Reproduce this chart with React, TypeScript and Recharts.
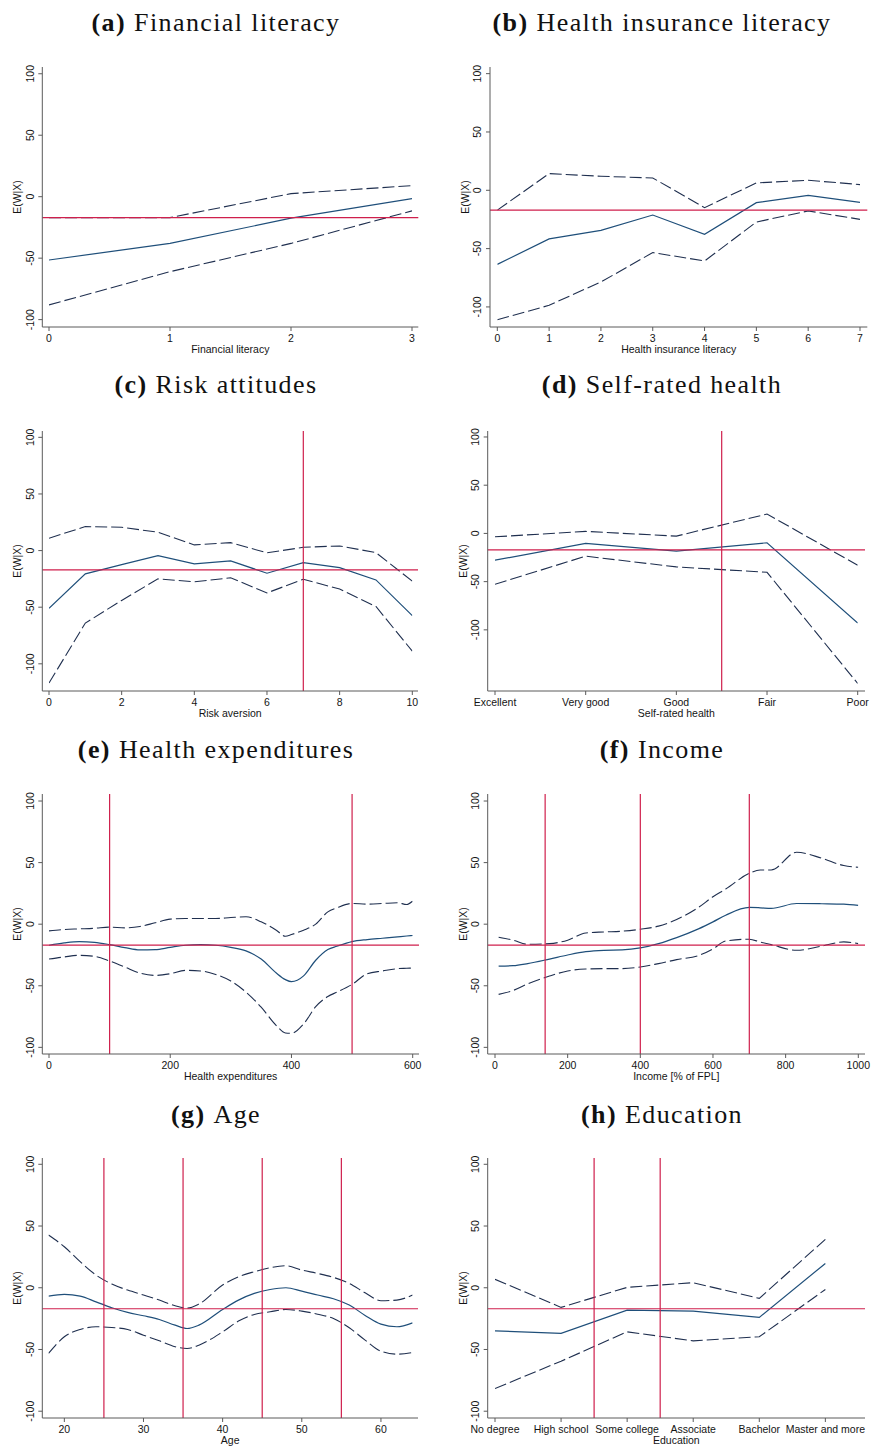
import { LineChart, Line, XAxis, YAxis, ReferenceLine } from "recharts";

// Sample mean of E(W|X), drawn as the horizontal reference in every panel
const MEAN_W = -17;

// (a) Financial literacy
const finLitX = [0, 1, 2, 3];
const finLitFit = [-51.5, -38, -17.5, -1.5];
const finLitHi = [-17, -17, 2.5, 9];
const finLitLo = [-88, -61, -38, -11.5];

// (b) Health insurance literacy
const hiLitX = [0, 1, 2, 3, 4, 5, 6, 7];
const hiLitFit = [-63.5, -41.7, -34.3, -21.2, -37.7, -10.6, -4.3, -10.3];
const hiLitHi = [-17, 14.3, 12, 10.6, -14.9, 6.3, 8.6, 4.9];
const hiLitLo = [-111, -98.6, -78.6, -53.4, -60.6, -27.2, -17.7, -24.9];

// (c) Risk attitudes
const riskX = [0, 1, 2, 3, 4, 5, 6, 7, 8, 9, 10];
const riskFit = [-50.9, -20.6, -12.4, -4.4, -11.8, -9.1, -20, -10.6, -15, -25.9, -57.4];
const riskHi = [10.9, 21.2, 20.6, 16.2, 5, 7, -2, 2.9, 4.1, -1.8, -27];
const riskLo = [-117, -64, -44, -25, -27.6, -24, -37.4, -25.3, -34, -49.4, -88.8];

// (d) Self-rated health
const healthCats = ["Excellent", "Very good", "Good", "Fair", "Poor"];
const healthX = [0, 1, 2, 3, 4];
const healthFit = [-27.8, -10.4, -18.4, -9.7, -93];
const healthHi = [-3.5, 2.1, -2.8, 20.1, -33];
const healthLo = [-52.8, -23.6, -34.7, -40.3, -155.6];

// (e) Health expenditures
const expX = [0, 25, 50, 75, 100, 125, 150, 175, 200, 225, 250, 275, 300, 325, 350, 375, 390, 400, 420, 440, 460, 475, 500, 525, 550, 575, 590, 600];
const expFit = [-17.1, -15.2, -14.1, -14.7, -16.6, -19, -20.9, -20.7, -18.8, -17.1, -16.6, -17.1, -18.8, -21.7, -28.3, -39.7, -45, -46.7, -42, -29.3, -20.6, -17.9, -14.1, -12.5, -11.4, -10.3, -9.6, -9.2];
const expHi = [-5.4, -4.3, -3.8, -3.3, -2.4, -3, -1.9, 1.1, 4.1, 4.6, 4.6, 4.6, 5.4, 6, 1.9, -4.9, -9.8, -8.4, -4.9, 0, 10, 13.3, 16.8, 16.3, 16.8, 17.4, 16, 18.8];
const expLo = [-28.3, -26.6, -25.3, -26.1, -29.9, -34.8, -39.7, -41.6, -40.2, -37.5, -38, -40.8, -46.2, -55.2, -67.4, -82.3, -88.3, -88.6, -81, -67, -58.7, -55.2, -48.9, -40.2, -38, -36.1, -35.8, -35.6];

// (f) Income [% of FPL]
const incX = [10, 50, 90, 150, 200, 250, 300, 350, 400, 450, 500, 560, 600, 635, 700, 730, 760, 830, 900, 960, 1000];
const incFit = [-34, -33.7, -32, -28.3, -25, -22.3, -21.2, -20.9, -19.3, -15.8, -10.9, -3.8, 1.9, 7.3, 13.6, 13.3, 12.8, 16.8, 16.6, 16.3, 15.2];
const incHi = [-10.6, -13, -16.3, -15.8, -13, -7.1, -6.3, -5.7, -4.1, -1.6, 3.8, 13.6, 22.3, 28.5, 41.3, 44, 44, 58.4, 53.5, 47.6, 46.2];
const incLo = [-57, -53.8, -48.5, -42.1, -38, -36.4, -36.1, -36.1, -34.8, -32, -28.8, -25.5, -20, -13.6, -12.2, -14.5, -16.6, -21.2, -17.7, -14.4, -15.8];

// (g) Age
const ageX = [18, 20, 22, 24, 26, 28, 30, 32, 34, 35.5, 37, 40, 42, 44, 46, 48, 50, 52, 54, 56, 58, 60, 62, 64];
const ageFit = [-6.8, -5.4, -6.8, -11.4, -16.2, -20, -22.7, -25.7, -30.3, -33, -30.3, -17.6, -10, -4.6, -1.4, 0, -2.7, -5.9, -8.9, -14, -22.4, -29.5, -31.6, -28.4];
const ageHi = [42.7, 33.2, 21.1, 10.3, 3, -1.9, -5.9, -10, -14.6, -16.5, -13.2, 2.2, 8.9, 13, 16.2, 17.8, 14.3, 11.6, 8.4, 3.5, -4.1, -10.5, -10, -5.9];
const ageLo = [-53.2, -39.7, -33.8, -31.6, -32.2, -33.8, -38.4, -43, -47.8, -49.2, -46.5, -35.7, -27, -21.6, -19.5, -17.6, -18.9, -21.4, -24.9, -32.4, -42.4, -51.4, -53.8, -52.4];

// (h) Education
const eduCats = ["No degree", "High school", "Some college", "Associate", "Bachelor", "Master and more"];
const eduX = [0, 1, 2, 3, 4, 5];
const eduFit = [-34.9, -37, -18.1, -18.9, -24, 19.7];
const eduHi = [6.8, -15.9, 0.3, 4.1, -8.6, 39.2];
const eduLo = [-81.6, -59.5, -35.7, -43, -39.7, -1.4];

const yTicks = [-100, -50, 0, 50, 100];

const FIT = "#1f4f7a";
const BAND = "#1f2f4f";
const RED = "#cf1f4c";
const AXIS = "#5a5a5a";
const INK = "#141414";
const SANS = "'Liberation Sans', Arial, sans-serif";
const SERIF = "'Liberation Serif', 'Times New Roman', serif";

const ROW_TOP = [67, 430.7, 794, 1158];
const TITLE_BASE = [30.7, 393.3, 758.3, 1122.7];
const PLOT_H = 260;
const TOP_PAD = 6;
const X_AXIS_H = 30;

const toRows = (x: number[], fit: number[], hi: number[], lo: number[]) =>
  x.map((v, i) => ({ x: v, fit: fit[i], hi: hi[i], lo: lo[i] }));

interface PanelCfg {
  tag: string;
  title: string;
  col: 0 | 1;
  row: number;
  axisX: number;
  plotRight: number;
  data: { x: number; fit: number; hi: number; lo: number }[];
  yDomain: [number, number];
  xDomain: [number, number];
  xTicks: number[];
  xPad: { left: number; right: number };
  xLabel: string;
  xFormat?: (v: number) => string;
  vlines?: number[];
  smooth?: boolean;
}

const panels: PanelCfg[] = [
  {
    tag: "(a)", title: "Financial literacy", col: 0, row: 0, axisX: 42.3, plotRight: 418.3,
    data: toRows(finLitX, finLitFit, finLitHi, finLitLo),
    yDomain: [-106, 105.5], xDomain: [0, 3], xTicks: [0, 1, 2, 3], xPad: { left: 6.7, right: 6.3 },
    xLabel: "Financial literacy",
  },
  {
    tag: "(b)", title: "Health insurance literacy", col: 1, row: 0, axisX: 490, plotRight: 867.3,
    data: toRows(hiLitX, hiLitFit, hiLitHi, hiLitLo),
    yDomain: [-117.2, 105.7], xDomain: [0, 7], xTicks: [0, 1, 2, 3, 4, 5, 6, 7], xPad: { left: 7.3, right: 7.3 },
    xLabel: "Health insurance literacy",
  },
  {
    tag: "(c)", title: "Risk attitudes", col: 0, row: 1, axisX: 42.3, plotRight: 418,
    data: toRows(riskX, riskFit, riskHi, riskLo),
    yDomain: [-124, 105.6], xDomain: [0, 10], xTicks: [0, 2, 4, 6, 8, 10], xPad: { left: 6.7, right: 5.7 },
    xLabel: "Risk aversion", vlines: [7],
  },
  {
    tag: "(d)", title: "Self-rated health", col: 1, row: 1, axisX: 487.7, plotRight: 865,
    data: toRows(healthX, healthFit, healthHi, healthLo),
    yDomain: [-163.4, 106.2], xDomain: [0, 4], xTicks: healthX, xPad: { left: 7.3, right: 7.3 },
    xLabel: "Self-rated health", xFormat: (v) => healthCats[v] ?? "", vlines: [2.5],
  },
  {
    tag: "(e)", title: "Health expenditures", col: 0, row: 2, axisX: 42.3, plotRight: 419,
    data: toRows(expX, expFit, expHi, expLo),
    yDomain: [-105.4, 105.7], xDomain: [0, 600], xTicks: [0, 200, 400, 600], xPad: { left: 6.7, right: 6.3 },
    xLabel: "Health expenditures", vlines: [100, 500], smooth: true,
  },
  {
    tag: "(f)", title: "Income", col: 1, row: 2, axisX: 487.7, plotRight: 865,
    data: toRows(incX, incFit, incHi, incLo),
    yDomain: [-105.4, 105.7], xDomain: [0, 1000], xTicks: [0, 200, 400, 600, 800, 1000], xPad: { left: 7.3, right: 6.7 },
    xLabel: "Income [% of FPL]", vlines: [138, 400, 700], smooth: true,
  },
  {
    tag: "(g)", title: "Age", col: 0, row: 3, axisX: 42.3, plotRight: 418,
    data: toRows(ageX, ageFit, ageHi, ageLo),
    yDomain: [-105.5, 105.1], xDomain: [18, 64], xTicks: [20, 30, 40, 50, 60], xPad: { left: 6.2, right: 5.4 },
    xLabel: "Age", vlines: [25, 35, 45, 55], smooth: true,
  },
  {
    tag: "(h)", title: "Education", col: 1, row: 3, axisX: 487.7, plotRight: 865,
    data: toRows(eduX, eduFit, eduHi, eduLo),
    yDomain: [-105.5, 105.1], xDomain: [0, 5.6], xTicks: eduX, xPad: { left: 7.3, right: 0 },
    xLabel: "Education", xFormat: (v) => eduCats[v] ?? "", vlines: [1.5, 2.5],
  },
];

// Stata-style vertical tick labels on the y axis
const YTick = (props: any) => {
  const { x, y, payload } = props;
  return (
    <text x={x} y={y} transform={`rotate(-90 ${x} ${y})`} textAnchor="middle"
      fontSize={10.5} fontFamily={SANS} fill={INK}>
      {payload.value}
    </text>
  );
};

const YTitle = (props: any) => {
  const vb = props.viewBox;
  const x = vb.x + vb.width - 21;
  const y = vb.y + vb.height / 2;
  return (
    <text x={x} y={y} transform={`rotate(-90 ${x} ${y})`} textAnchor="middle"
      fontSize={10.5} fontFamily={SANS} fill={INK}>
      E(W|X)
    </text>
  );
};

function Panel({ p }: { p: PanelCfg }) {
  const chartLeft = p.col === 0 ? 0 : 440;
  const chartRight = p.col === 0 ? 435 : 871;
  const width = chartRight - chartLeft;
  const height = TOP_PAD + PLOT_H + X_AXIS_H;
  const curve = p.smooth ? "monotone" : "linear";
  return (
    <div style={{ position: "absolute", left: chartLeft, top: ROW_TOP[p.row] - TOP_PAD }}>
      <LineChart
        width={width}
        height={height}
        data={p.data}
        margin={{ top: TOP_PAD, right: chartRight - p.plotRight, bottom: 0, left: 0 }}
      >
        <XAxis
          dataKey="x"
          type="number"
          domain={p.xDomain}
          ticks={p.xTicks}
          interval={0}
          allowDataOverflow
          padding={p.xPad}
          height={X_AXIS_H}
          stroke={AXIS}
          tickSize={4}
          tickMargin={3.5}
          tickFormatter={p.xFormat}
          tick={{ fill: INK, fontSize: 10.5, fontFamily: SANS }}
          label={{ value: p.xLabel, position: "insideBottom", offset: 4, fill: INK, fontSize: 10.5, fontFamily: SANS }}
        />
        <YAxis
          type="number"
          domain={p.yDomain}
          ticks={yTicks}
          interval={0}
          allowDataOverflow
          width={p.axisX - chartLeft}
          stroke={AXIS}
          tickSize={4}
          tickMargin={4.5}
          tick={YTick}
          label={YTitle}
        />
        <Line type={curve} dataKey="hi" stroke={BAND} strokeWidth={1.1} strokeDasharray="12 4" dot={false} isAnimationActive={false} />
        <Line type={curve} dataKey="lo" stroke={BAND} strokeWidth={1.1} strokeDasharray="12 4" dot={false} isAnimationActive={false} />
        <Line type={curve} dataKey="fit" stroke={FIT} strokeWidth={1.2} dot={false} isAnimationActive={false} />
        <ReferenceLine y={MEAN_W} stroke={RED} strokeWidth={1.2} />
        {(p.vlines ?? []).map((v) => (
          <ReferenceLine key={v} x={v} stroke={RED} strokeWidth={1.2} />
        ))}
      </LineChart>
    </div>
  );
}

export default function App() {
  return (
    <div style={{ position: "absolute", left: 0, top: 0, width: 871, height: 1447, background: "#fff" }}>
      {panels.map((p) => (
        <Panel key={p.tag} p={p} />
      ))}
      <svg width={871} height={1447} style={{ position: "absolute", left: 0, top: 0, pointerEvents: "none" }}>
        {panels.map((p) => (
          <text key={p.tag} x={p.col === 0 ? 216 : 662} y={TITLE_BASE[p.row]} textAnchor="middle"
            fontFamily={SERIF} fontSize={26} letterSpacing={1.4} fill="#111">
            <tspan fontWeight="bold">{p.tag}</tspan>
            <tspan dx={8}>{p.title}</tspan>
          </text>
        ))}
      </svg>
    </div>
  );
}
